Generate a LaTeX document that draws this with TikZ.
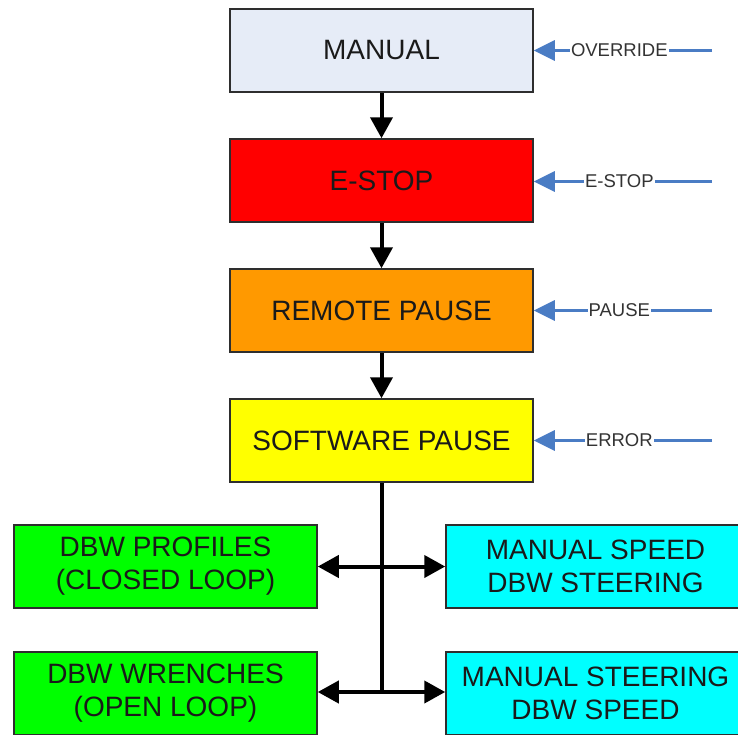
\documentclass[tikz,border=0pt]{standalone}
\usepackage{fontspec}
\setmainfont{Liberation Sans}
\usetikzlibrary{arrows.meta}
\definecolor{manualfill}{HTML}{E6ECF7}
\definecolor{estopfill}{HTML}{FF0000}
\definecolor{pausefill}{HTML}{FF9900}
\definecolor{swfill}{HTML}{FFFF00}
\definecolor{greenfill}{HTML}{00FF00}
\definecolor{cyanfill}{HTML}{00FFFF}
\definecolor{boxline}{HTML}{2E2E2E}
\definecolor{txt}{HTML}{1A1A1A}
\definecolor{arrowblue}{HTML}{4A7CC4}
\tikzset{
  statebox/.style={draw=boxline, line width=1.5pt, minimum width=303pt, minimum height=83pt,
    inner sep=0pt, align=center, text=txt, font=\fontsize{28}{33}\selectfont},
  flowarrow/.style={line width=4pt, -{Triangle[length=21pt,width=22pt]}},
  dblarrow/.style={line width=4pt, {Triangle[length=21pt,width=22pt]}-{Triangle[length=21pt,width=22pt]}},
  inarrow/.style={draw=arrowblue, line width=3pt, -{Triangle[length=21pt,width=20pt]}},
  inlabel/.style={fill=white, inner xsep=1pt, inner ysep=2pt, text=black!80, font=\fontsize{18.5}{20}\selectfont}
}
\begin{document}
\begin{tikzpicture}[x=1pt,y=-1pt]
\useasboundingbox (0,0) rectangle (738,734);
\clip (0,0) rectangle (738,734);
\fill[white] (0,0) rectangle (738,734);

\node[statebox, fill=manualfill] (manual) at (381.5,50.5) {MANUAL};
\node[statebox, fill=estopfill] (estop) at (381.5,180.5) {E-STOP};
\node[statebox, fill=pausefill] (remote) at (381.5,310.5) {REMOTE PAUSE};
\node[statebox, fill=swfill] (software) at (381.5,440.5) {SOFTWARE PAUSE};

\node[statebox, fill=greenfill] (profiles) at (165.5,566.5) {DBW PROFILES\\(CLOSED LOOP)};
\node[statebox, fill=greenfill] (wrenches) at (165.5,693.5) {DBW WRENCHES\\(OPEN LOOP)};
\node[statebox, fill=cyanfill, minimum width=305pt] (speed) at (598.5,566.5) {\hspace*{-6pt}MANUAL SPEED\\\hspace*{-6pt}DBW STEERING};
\node[statebox, fill=cyanfill, minimum width=305pt] (steering) at (598.5,693.5) {\hspace*{-6pt}MANUAL STEERING\\\hspace*{-6pt}DBW SPEED};

\draw[flowarrow] (manual.south) -- (estop.north);
\draw[flowarrow] (estop.south) -- (remote.north);
\draw[flowarrow] (remote.south) -- (software.north);

\coordinate (j1) at (381.5,566.5);
\coordinate (j2) at (381.5,692);
\draw[line width=4pt] (software.south) -- (j2);
\draw[dblarrow] (profiles.east) -- (speed.west);
\draw[dblarrow] (wrenches.east |- j2) -- (steering.west |- j2);

\coordinate (s1) at (712,50.5);
\coordinate (s2) at (712,181.5);
\coordinate (s3) at (712,310.5);
\coordinate (s4) at (712,440.5);
\draw[inarrow] (s1) -- node[inlabel, pos=0.52] (l1) {OVERRIDE} (manual.east |- s1);
\draw[inarrow] (s2) -- node[inlabel, pos=0.52] (l2) {E-STOP} (estop.east |- s2);
\draw[inarrow] (s3) -- node[inlabel, pos=0.52] (l3) {PAUSE} (remote.east |- s3);
\draw[inarrow] (s4) -- node[inlabel, pos=0.52] (l4) {ERROR} (software.east |- s4);
\end{tikzpicture}
\end{document}
